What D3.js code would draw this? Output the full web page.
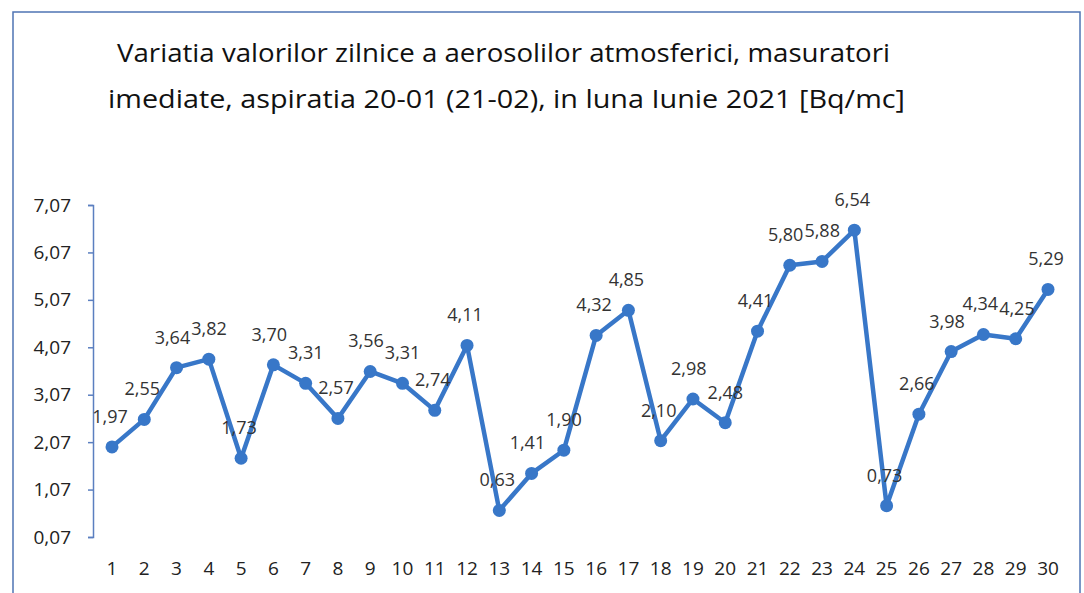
<!DOCTYPE html>
<meta charset="utf-8">
<script src="https://d3js.org/d3.v7.min.js"></script>
<style>
  body { margin: 0; background: #fff; }
  text { font-family: "Open Sans", sans-serif; }
</style>
<div id="chart"></div>
<script>

// data
const days = d3.range(1, 31).map(String);
const values = [1.97, 2.55, 3.64, 3.82, 1.73, 3.70, 3.31, 2.57, 3.56, 3.31,
                2.74, 4.11, 0.63, 1.41, 1.90, 4.32, 4.85, 2.10, 2.98, 2.48,
                4.41, 5.80, 5.88, 6.54, 0.73, 2.66, 3.98, 4.34, 4.25, 5.29];
const yTicks = [0.07, 1.07, 2.07, 3.07, 4.07, 5.07, 6.07, 7.07];
const titleLines = ["Variatia valorilor zilnice a aerosolilor atmosferici, masuratori",
                    "imediate, aspiratia 20-01 (21-02),  in luna Iunie 2021 [Bq/mc]"];

const W = 1084, H = 593;
const fmt = v => v.toFixed(2).replace(".", ",");

const svg = d3.select("#chart").append("svg")
    .attr("width", W)
    .attr("height", H);

// outer frame (runs off the bottom of the picture)
svg.append("rect")
    .attr("x", 13).attr("y", 12)
    .attr("width", 1067).attr("height", 600)
    .attr("fill", "none")
    .attr("stroke", "#4f74b4")
    .attr("stroke-width", 1.5);

// title, squeezed to the width of the narrow original font
const titleWidths = [773, 797];
const titleX = [117, 108];
svg.append("g").selectAll("text")
  .data(titleLines)
  .join("text")
    .attr("x", (d, i) => titleX[i])
    .attr("y", (d, i) => 62 + i * 46)
    .attr("textLength", (d, i) => titleWidths[i])
    .attr("lengthAdjust", "spacingAndGlyphs")
    .style("font-size", "26px")
    .style("fill", "#111")
    .text(d => d);

const x = d3.scalePoint()
    .domain(days)
    .range([112, 1048]);

const y = d3.scaleLinear()
    .domain([0.07, 7.07])
    .range([537, 205]);

// y axis
const yAxis = svg.append("g")
    .attr("transform", "translate(93,0)")
    .call(d3.axisLeft(y).tickValues(yTicks).tickFormat(fmt).tickSizeOuter(0).tickSize(5).tickPadding(17));
yAxis.select(".domain").attr("stroke", "#5b7fc0").attr("stroke-width", 1.5);
yAxis.selectAll(".tick line").attr("stroke", "#5b7fc0").attr("stroke-width", 1.5);
yAxis.selectAll("text")
    .style("font-size", "19px")
    .style("fill", "#222");

// x labels
svg.append("g").selectAll("text")
  .data(days)
  .join("text")
    .attr("x", d => x(d))
    .attr("y", 575)
    .attr("text-anchor", "middle")
    .style("font-size", "19px")
    .style("fill", "#222")
    .text(d => d);

// line
const line = d3.line()
    .x((d, i) => x(days[i]))
    .y(d => y(d));

svg.append("path")
    .datum(values)
    .attr("d", line)
    .attr("fill", "none")
    .attr("stroke", "#3877c8")
    .attr("stroke-width", 4.5)
    .attr("stroke-linejoin", "round");

svg.append("g").selectAll("circle")
  .data(values)
  .join("circle")
    .attr("cx", (d, i) => x(days[i]))
    .attr("cy", d => y(d))
    .attr("r", 6.5)
    .attr("fill", "#3877c8");

// value labels
const labels = svg.append("g").selectAll("text")
  .data(values)
  .join("text")
    .attr("x", (d, i) => x(days[i]) - 2)
    .attr("y", d => y(d) - 24)
    .attr("text-anchor", "middle")
    .style("font-size", "18px")
    .style("fill", "#333")
    .text(d => fmt(d));

// push neighbouring labels apart when they collide
const nodes = labels.nodes();
for (let i = 1; i < nodes.length; i++) {
  const a = nodes[i - 1].getBBox(), b = nodes[i].getBBox();
  const overlapX = a.x + a.width + 1 - b.x;
  const overlapY = Math.min(a.y + a.height, b.y + b.height) - Math.max(a.y, b.y);
  if (overlapX > 0 && overlapY > 0) {
    const half = overlapX / 2;
    nodes[i - 1].setAttribute("x", +nodes[i - 1].getAttribute("x") - half);
    nodes[i].setAttribute("x", +nodes[i].getAttribute("x") + half);
  }
}

</script>
